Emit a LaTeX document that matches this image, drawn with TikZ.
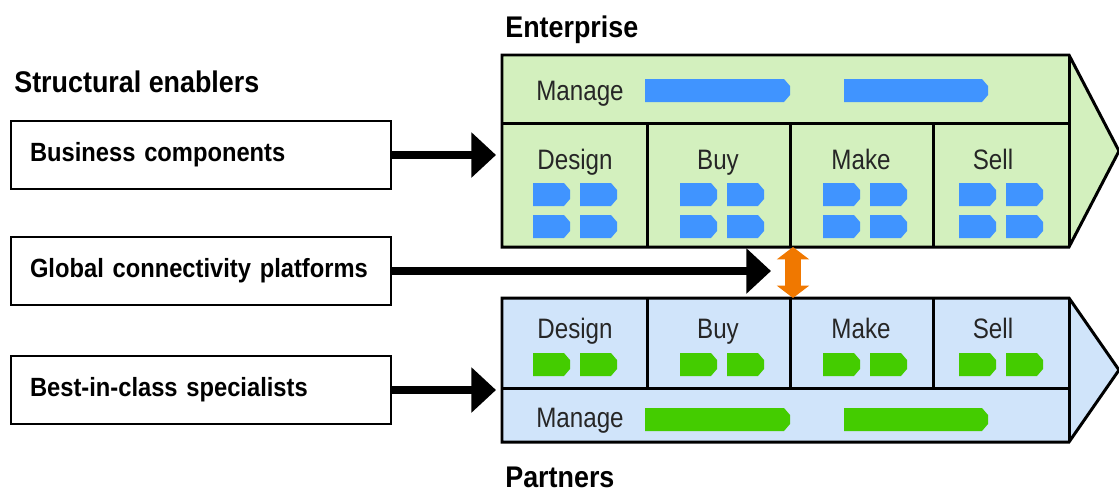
\documentclass[tikz,border=0pt]{standalone}
\usepackage{fontspec}
\setmainfont{Liberation Sans}
\newfontfamily\cellfont{Liberation Sans}[FakeStretch=0.86]
\newfontfamily\headfont{Liberation Sans}[FakeStretch=0.9]
\usetikzlibrary{arrows.meta}

\definecolor{entgreen}{RGB}{211,240,190}
\definecolor{partblue}{RGB}{208,228,250}
\definecolor{chevblue}{RGB}{64,148,255}
\definecolor{chevgreen}{RGB}{68,204,0}
\definecolor{linkorange}{RGB}{240,120,0}

% flat chevron: left x, top y, width, colour
\newcommand{\chev}[4]{%
  \fill[#4] (#1,#2) -- ++(#3-6,0) -- ++(6,7) -- ++(0,9) -- ++(-6,7) -- ++(6-#3,0) -- cycle;}

\begin{document}
\begin{tikzpicture}[x=0.02cm,y=-0.02cm,
    enabler/.style={draw, line width=1.1pt, minimum width=7.6cm, minimum height=1.36cm,
      text width=6.84cm, align=left, inner xsep=0.38cm,
      font=\headfont\bfseries\fontsize{15}{18}\selectfont},
    title/.style={anchor=base west, inner sep=0pt,
      font=\headfont\bfseries\fontsize{17}{20}\selectfont},
    cell/.style={anchor=base, inner sep=0pt, text=black!85,
      font=\cellfont\fontsize{16}{19}\selectfont},
    block/.style={line width=1.7pt, line join=miter},
    feed/.style={line width=4.5pt, -{Triangle[length=14pt,width=25pt]}},
    link/.style={draw=linkorange, line width=9pt,
      {Triangle[length=7pt,width=18pt]}-{Triangle[length=7pt,width=18pt]}}]
    \useasboundingbox (0,0) rectangle (1119,491);

    % titles
    \node[title] (enablers) at (14,92) {Structural enablers};
    \node[title] (enterprise) at (505,37) {Enterprise};
    \node[title] (partners) at (505,487) {Partners};

    % enablers
    \node[enabler] (b1) at (201,155) {Business components};
    \node[enabler] (b2) at (201,271) {Global connectivity platforms};
    \node[enabler] (b3) at (201,390) {Best-in-class specialists};

    % enterprise chain
    \draw[block, fill=entgreen] (502,55) -- (1069,55) -- (1119,151) -- (1069,247) -- (502,247) -- cycle;
    \draw[block] (502,123) -- (1069,123) (1069,55) -- (1069,247);
    \foreach \x in {647,790,933}
        \draw[block] (\x,123) -- (\x,247);

    % partner chain
    \draw[block, fill=partblue] (502,298) -- (1069,298) -- (1119,370) -- (1069,442) -- (502,442) -- cycle;
    \draw[block] (502,388) -- (1069,388) (1069,298) -- (1069,442);
    \foreach \x in {647,790,933}
        \draw[block] (\x,298) -- (\x,388);

    % labels
    \node[cell] (e-manage) at (580,100) {Manage};
    \node[cell] (p-manage) at (580,427) {Manage};
    \foreach \lab/\x [count=\i] in {Design/575,Buy/718,Make/861,Sell/993} {
        \node[cell] (e-\i) at (\x,169) {\lab};
        \node[cell] (p-\i) at (\x,338) {\lab};
    }

    % manage bars
    \chev{645}{79}{145}{chevblue}
    \chev{844}{79}{144}{chevblue}
    \chev{645}{408}{145}{chevgreen}
    \chev{844}{408}{144}{chevgreen}

    % activity chevrons
    \foreach \x in {533,680,823,959} {
        \foreach \y in {183,215} {
            \chev{\x}{\y}{37}{chevblue}
            \chev{\x+47}{\y}{37}{chevblue}
        }
        \chev{\x}{353}{37}{chevgreen}
        \chev{\x+47}{353}{37}{chevgreen}
    }

    % arrows
    \coordinate (ent-in) at (496,155);
    \coordinate (glob-in) at (771,271);
    \coordinate (part-in) at (496,390);
    \coordinate (ent-s) at (793,247);
    \coordinate (part-n) at (793,298);
    \draw[feed] (b1.east) -- (ent-in);
    \draw[feed] (b2.east) -- (glob-in);
    \draw[feed] (b3.east) -- (part-in);
    \draw[link] (ent-s) -- (part-n);
\end{tikzpicture}
\end{document}
